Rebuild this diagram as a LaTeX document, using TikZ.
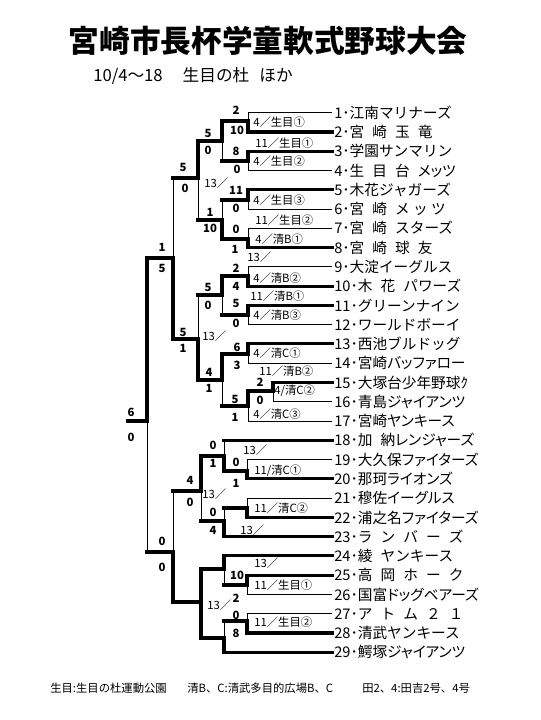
\documentclass[tikz,border=0pt]{standalone}
\usepackage{fontspec}
\setmainfont{Noto Sans CJK JP}
\newfontfamily\prop{Noto Sans CJK JP}[RawFeature=+palt]
\usetikzlibrary{calc}

\newcommand{\gp}{\hspace{.55em}}

\begin{document}
\begin{tikzpicture}[x=0.75pt, y=-0.75pt,
  won/.style={line width=2.3pt, line cap=rect},
  lost/.style={line width=0.75pt},
  team/.style={anchor=west, inner sep=1.5pt, font=\fontsize{11}{12}\selectfont},
  narrow/.style={team, font=\prop\fontsize{11}{12}\selectfont},
  score/.style={inner sep=0pt, font=\bfseries\fontsize{8.5}{9}\selectfont},
  venue/.style={anchor=west, inner sep=0pt, font=\fontsize{8.5}{9}\selectfont},
  note/.style={anchor=west, inner sep=0pt, font=\fontsize{8.5}{9}\selectfont}]
\fill[white] (0,0) rectangle (540,720);
\useasboundingbox (0,0) rectangle (540,720);

\node[font=\bfseries\fontsize{23}{24}\selectfont] (title) at (268,41) {宮崎市長杯学童軟式野球大会};
\node[anchor=west, inner sep=0pt, font=\fontsize{12.5}{13}\selectfont] (dates) at (93,76) {10/4～18\hspace{1.2em}生目の杜\hspace{.6em}ほか};

\foreach \i/\sx/\w/\st/\name in {
  1/248/lost/team/{1･江南マリナーズ}, 2/248/won/team/{2･宮\gp 崎\gp 玉\gp 竜},
  3/248/won/team/{3･学園サンマリン}, 4/248/lost/team/{4･生\gp 目\gp 台\gp {\prop メッツ}},
  5/248/won/team/{5･木花ジャガーズ}, 6/248/lost/team/{6･宮\gp 崎\gp メ ッ ツ},
  7/248/lost/team/{7･宮\gp 崎\gp スターズ}, 8/248/won/team/{8･宮\gp 崎\gp 球\gp 友},
  9/248/lost/team/{9･大淀イーグルス}, 10/248/won/team/{10･木\gp 花\gp パワーズ},
  11/248/won/team/{11･グリーンナイン}, 12/248/lost/team/{12･ワールドボーイ},
  13/248/won/team/{13･西池ブルドッグ}, 14/248/lost/narrow/{14･宮崎バッファロー},
  15/273/won/narrow/{15･大塚台少年野球ｸ}, 16/273/lost/narrow/{16･青島ジャイアンツ},
  17/248/lost/narrow/{17･宮崎ヤンキース}, 18/224/won/narrow/{18･加\gp 納レンジャーズ},
  19/247/lost/narrow/{19･大久保ファイターズ}, 20/247/won/narrow/{20･那珂ライオンズ},
  21/247/lost/narrow/{21･穆佐イーグルス}, 22/247/won/narrow/{22･浦之名ファイターズ},
  23/224/won/team/{23･ラ\gp ン\gp バ\gp ー\gp ズ}, 24/224/won/team/{24･綾\gp ヤンキース},
  25/247/won/team/{25･高\gp 岡\gp ホ\gp ー\gp ク}, 26/247/lost/narrow/{26･国富ドッグベアーズ},
  27/247/lost/team/{27･ア\gp ト\gp ム\gp ２\gp １}, 28/247/won/team/{28･清武ヤンキース},
  29/224/won/narrow/{29･鰐塚ジャイアンツ}}
{
  \node[\st] (t\i) at (332,{112.7+19.27*(\i-1)}) {\name};
  \coordinate (s\i) at (\sx,{112.7+19.27*(\i-1)});
  \draw[\w] (s\i) -- (t\i.west);
}

\coordinate (A) at (248,121);
\coordinate (B) at (248,161);
\coordinate (AB) at (222,141);
\coordinate (C) at (248,200);
\coordinate (D) at (248,239);
\coordinate (CD) at (222,220);
\coordinate (Q1) at (198,178);
\coordinate (E) at (248,276);
\coordinate (F) at (248,315);
\coordinate (EF) at (222,295);
\coordinate (G) at (248,354);
\coordinate (H) at (273,391);
\coordinate (H17) at (248,406);
\coordinate (GH) at (222,380);
\coordinate (Q2) at (198,339);
\coordinate (T) at (173,258);
\coordinate (I) at (247,471);
\coordinate (K) at (224,456);
\coordinate (J) at (247,508);
\coordinate (L) at (224,521);
\coordinate (KL) at (201,491);
\coordinate (M) at (247,585);
\coordinate (P) at (224,569);
\coordinate (N) at (247,621);
\coordinate (R) at (224,638);
\coordinate (MN) at (201,602);
\coordinate (U) at (173,552);
\coordinate (F0) at (147,421);
\coordinate (champ) at (128,421);

\draw[lost] (s1) -- (A);
\draw[won] (s2) -- (A) -- (A-|AB);
\draw[won] (s3) -- (B) -- (B-|AB);
\draw[lost] (s4) -- (B);
\draw[won] (A-|AB) -- (AB) -- (AB-|Q1);
\draw[lost] (B-|AB) -- (AB);
\draw[won] (s5) -- (C) -- (C-|CD);
\draw[lost] (s6) -- (C);
\draw[lost] (s7) -- (D);
\draw[won] (s8) -- (D) -- (D-|CD);
\draw[lost] (C-|CD) -- (CD);
\draw[won] (D-|CD) -- (CD) -- (CD-|Q1);
\draw[won] (AB-|Q1) -- (Q1) -- (Q1-|T);
\draw[lost] (CD-|Q1) -- (Q1);
\draw[lost] (s9) -- (E);
\draw[won] (s10) -- (E) -- (E-|EF);
\draw[won] (s11) -- (F) -- (F-|EF);
\draw[lost] (s12) -- (F);
\draw[won] (E-|EF) -- (EF) -- (EF-|Q2);
\draw[lost] (F-|EF) -- (EF);
\draw[won] (s13) -- (G) -- (G-|GH);
\draw[lost] (s14) -- (G);
\draw[won] (s15) -- (H) -- (H-|H17);
\draw[lost] (s16) -- (H);
\draw[won] (H-|H17) -- (H17) -- (H17-|GH);
\draw[lost] (s17) -- (H17);
\draw[won] (G-|GH) -- (GH) -- (GH-|Q2);
\draw[lost] (H17-|GH) -- (GH);
\draw[lost] (EF-|Q2) -- (Q2);
\draw[won] (GH-|Q2) -- (Q2) -- (Q2-|T);
\draw[lost] (Q1-|T) -- (T);
\draw[won] (Q2-|T) -- (T) -- (T-|F0);
\draw[lost] (s19) -- (I);
\draw[won] (s20) -- (I) -- (I-|K);
\draw[lost] (s18) -- (K);
\draw[won] (I-|K) -- (K) -- (K-|KL);
\draw[lost] (s21) -- (J);
\draw[won] (s22) -- (J) -- (J-|L);
\draw[lost] (J-|L) -- (L);
\draw[won] (s23) -- (L) -- (L-|KL);
\draw[won] (K-|KL) -- (KL) -- (KL-|U);
\draw[lost] (L-|KL) -- (KL);
\draw[won] (s25) -- (M) -- (M-|P);
\draw[lost] (s26) -- (M);
\draw[won] (s24) -- (P) -- (P-|MN);
\draw[lost] (M-|P) -- (P);
\draw[lost] (s27) -- (N);
\draw[won] (s28) -- (N) -- (N-|R);
\draw[lost] (N-|R) -- (R);
\draw[won] (s29) -- (R) -- (R-|MN);
\draw[won] (P-|MN) -- (MN) -- (MN-|U);
\draw[won] (R-|MN) -- (MN);
\draw[lost] (KL-|U) -- (U);
\draw[won] (MN-|U) -- (U) -- (U-|F0);
\draw[won] (T-|F0) -- (F0) -- (champ);
\draw[lost] (U-|F0) -- (F0);

\node[score] (a1) at (236,110) {2};
\node[score] (a2) at (237,130) {10};
\node[score] (b1) at (236,151) {8};
\node[score] (b2) at (237,169) {0};
\node[score] (ab1) at (208,133) {5};
\node[score] (ab2) at (208,150) {0};
\node[score] (c1) at (236,190) {11};
\node[score] (c2) at (236,208) {0};
\node[score] (d1) at (236,229) {0};
\node[score] (d2) at (235,249) {1};
\node[score] (cd1) at (210,212) {1};
\node[score] (cd2) at (210,228) {10};
\node[score] (q11) at (183,167) {5};
\node[score] (q12) at (185,188) {0};
\node[score] (tt1) at (162,247) {1};
\node[score] (tt2) at (162,268) {5};
\node[score] (e1) at (236,268) {2};
\node[score] (e2) at (236,286) {4};
\node[score] (f1) at (236,303) {5};
\node[score] (f2) at (236,323) {0};
\node[score] (ef1) at (208,287) {5};
\node[score] (ef2) at (208,305) {0};
\node[score] (q21) at (183,332) {5};
\node[score] (q22) at (183,348) {1};
\node[score] (g1) at (237,347) {6};
\node[score] (g2) at (237,365) {3};
\node[score] (gh1) at (209,372) {4};
\node[score] (gh2) at (209,388) {1};
\node[score] (h1) at (260,382) {2};
\node[score] (h2) at (260,400) {0};
\node[score] (hh1) at (235,399) {5};
\node[score] (hh2) at (235,417) {1};
\node[score] (f01) at (131,412) {6};
\node[score] (f02) at (131,437) {0};
\node[score] (k1) at (213,445) {0};
\node[score] (k2) at (213,463) {1};
\node[score] (i1) at (236,462) {0};
\node[score] (i2) at (236,483) {1};
\node[score] (kl1) at (190,480) {4};
\node[score] (kl2) at (190,502) {0};
\node[score] (l1) at (213,512) {0};
\node[score] (l2) at (213,530) {4};
\node[score] (u1) at (162,541) {0};
\node[score] (u2) at (162,567) {0};
\node[score] (m1) at (237,575) {10};
\node[score] (m2) at (236,598) {2};
\node[score] (n1) at (236,615) {0};
\node[score] (n2) at (236,633) {8};

\node[note] (nA) at (253,122) {4／生目①};
\node[note] (nAB) at (255,143) {11／生目①};
\node[note] (nB) at (253,161) {4／生目②};
\node[note] (nQ1) at (204,183) {13／};
\node[note] (nC) at (253,200) {4／生目③};
\node[note] (nCD) at (255,220) {11／生目②};
\node[note] (nD) at (255,239) {4／清B①};
\node[note] (nT) at (247,257) {13／};
\node[note] (nE) at (253,278) {4／清B②};
\node[note] (nEF) at (250,296) {11／清B①};
\node[note] (nF) at (253,315) {4／清B③};
\node[note] (nQ2) at (202,336) {13／};
\node[note] (nG) at (253,353) {4／清C①};
\node[note] (nGH) at (259,371) {11／清B②};
\node[note] (nH) at (274,391) {4/清C②};
\node[note] (nH17) at (253,414) {4／清C③};
\node[note] (nK) at (243,450) {13／};
\node[note] (nI) at (254,471) {11/清C①};
\node[note] (nKL) at (202,494) {13／};
\node[note] (nJ) at (254,508) {11／清C②};
\node[note] (nL) at (240,530) {13／};
\node[note] (nP) at (254,563) {13／};
\node[note] (nM) at (254,585) {11／生目①};
\node[note] (nMN) at (207,605) {13／};
\node[note] (nN) at (254,622) {11／生目②};

\node[venue] (v1) at (50,688) {生目:生目の杜運動公園};
\node[venue] (v2) at (187,688) {清B、C:清武多目的広場B、C};
\node[venue] (v3) at (362,688) {田2、4:田吉2号、4号};
\end{tikzpicture}
\end{document}
